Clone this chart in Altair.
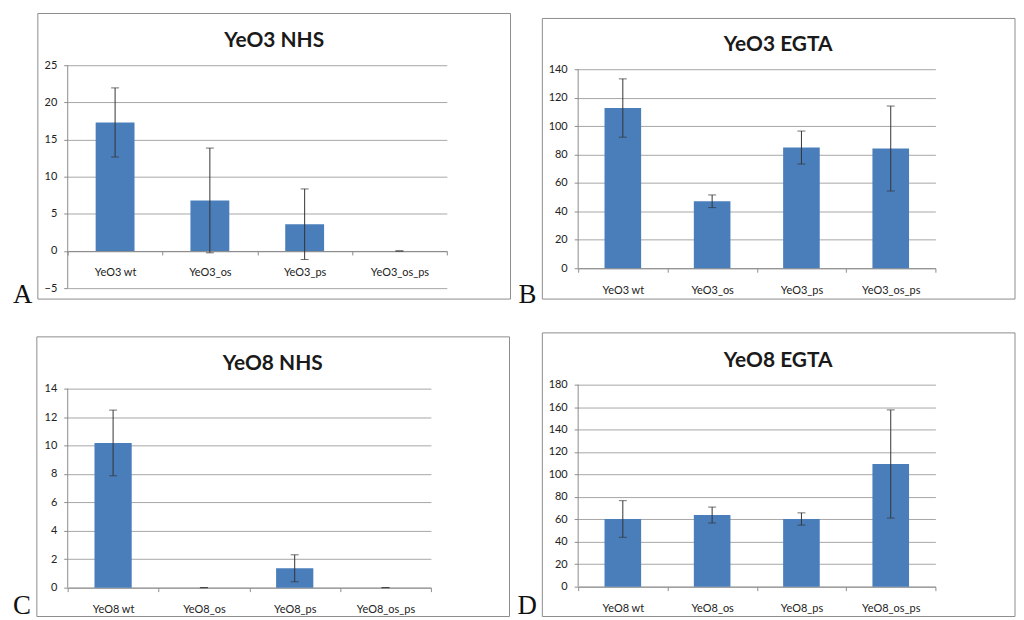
import altair as alt
import pandas as pd

# ---- data ----
cats_yeo3 = ["YeO3 wt", "YeO3_os", "YeO3_ps", "YeO3_os_ps"]
cats_yeo8 = ["YeO8 wt", "YeO8_os", "YeO8_ps", "YeO8_os_ps"]

a_mean = [17.3, 6.8, 3.6, 0.0]
a_err = [4.65, 7.05, 4.75, 0.0]
b_mean = [112.7, 47.1, 84.9, 84.2]
b_err = [20.5, 4.45, 11.6, 29.9]
c_mean = [10.18, 0.0, 1.36, 0.0]
c_err = [2.31, 0.0, 0.95, 0.0]
d_mean = [60.3, 63.8, 60.3, 109.3]
d_err = [16.3, 7.1, 5.45, 48.2]

a_ticks = [-5, 0, 5, 10, 15, 20, 25]
b_ticks = [0, 20, 40, 60, 80, 100, 120, 140]
c_ticks = [0, 2, 4, 6, 8, 10, 12, 14]
d_ticks = [0, 20, 40, 60, 80, 100, 120, 140, 160, 180]

# ---- style ----
FONT = "Lato"
BLUE = "#4a7ebb"
GRID = "#a6a6a6"
AXIS = "#8c8c8c"
FRAME = "#8c8c8c"
ERR = "#333333"
TXT = "#222222"


def panel(title, letter, cats, mean, err, ticks, top, w, h,
          frame, title_xy, letter_xy):
    df = pd.DataFrame({
        "cat": cats,
        "mean": mean,
        "lo": [m - e for m, e in zip(mean, err)],
        "hi": [m + e for m, e in zip(mean, err)],
    })
    ymin = ticks[0]
    x_off = -h * (0 - ymin) / (top - ymin)
    x = alt.X("cat:N", sort=cats, title=None,
              scale=alt.Scale(paddingInner=0, paddingOuter=0),
              axis=alt.Axis(orient="bottom", offset=x_off, labelAngle=0,
                            tickBand="extent", tickSize=4, tickColor=AXIS,
                            domainColor=AXIS, labelPadding=12, labelFont=FONT,
                            labelFontSize=11, labelColor=TXT, grid=False))
    yscale = alt.Scale(domain=[ymin, top], nice=False, zero=False)
    yaxis = alt.Axis(values=ticks, tickCount=len(ticks), labelOverlap=False,
                     title=None, grid=True, gridColor=GRID,
                     domain=False, tickSize=4, tickColor=AXIS, labelPadding=7,
                     labelFont=FONT, labelFontSize=11, labelColor=TXT)
    base = alt.Chart(df)
    bars = base.mark_bar(color=BLUE, width=alt.RelativeBandSize(0.41)).encode(
        x=x, y=alt.Y("mean:Q", scale=yscale, axis=yaxis))
    rule = base.mark_rule(color=ERR, strokeWidth=1).encode(
        x=x, y=alt.Y("lo:Q", scale=yscale, axis=yaxis), y2="hi:Q")
    cap_lo = base.mark_tick(color=ERR, size=8, thickness=1).encode(
        x=x, y=alt.Y("lo:Q", scale=yscale, axis=yaxis))
    cap_hi = base.mark_tick(color=ERR, size=8, thickness=1).encode(
        x=x, y=alt.Y("hi:Q", scale=yscale, axis=yaxis))

    one = alt.Chart(pd.DataFrame({"k": [0]}))
    yline = one.mark_rule(color=AXIS, strokeWidth=1).encode(
        x=alt.value(0), y=alt.datum(ticks[0]), y2=alt.datum(ticks[-1]))
    box = one.mark_rect(fillOpacity=0, stroke=FRAME, strokeWidth=1).encode(
        x=alt.value(frame[0]), x2=alt.value(frame[2]),
        y=alt.value(frame[1]), y2=alt.value(frame[3]))
    ttl = one.mark_text(text=title, font=FONT, fontSize=21, fontWeight="bold",
                        align="center", baseline="alphabetic",
                        color="#1a1a1a").encode(
        x=alt.value(title_xy[0]), y=alt.value(title_xy[1]))
    let = one.mark_text(text=letter, font="Liberation Serif", fontSize=27,
                        align="left", baseline="alphabetic",
                        color="#111111").encode(
        x=alt.value(letter_xy[0]), y=alt.value(letter_xy[1]))
    return alt.layer(box, bars, rule, cap_lo, cap_hi, yline, ttl, let).properties(
        width=w, height=h)


pa = panel("YeO3 NHS", "A", cats_yeo3, a_mean, a_err, a_ticks, 25, 381, 224,
           (-30, -52, 445, 235), (207.5, -18), (-55, 239))
pb = panel("YeO3 EGTA", "B", cats_yeo3, b_mean, b_err, b_ticks, 142.8, 359, 204,
           (-36, -47, 439, 235), (201, -14), (-60, 239))
pc = panel("YeO8 NHS", "C", cats_yeo8, c_mean, c_err, c_ticks, 14.28, 365, 204,
           (-31, -48, 444, 233), (206, -15), (-55, 230))
pd_ = panel("YeO8 EGTA", "D", cats_yeo8, d_mean, d_err, d_ticks, 180, 359, 203,
            (-36, -52, 439, 233), (201, -18), (-61, 230))

chart = alt.concat(pa, pb, pc, pd_, columns=2,
                   spacing={"row": 97, "column": 132}, bounds="flush").properties(
    padding={"left": 5, "top": 3, "right": 0, "bottom": 0}
).configure_view(strokeWidth=0)

chart.save("out.html", embed_options={"renderer": "svg", "actions": False})
